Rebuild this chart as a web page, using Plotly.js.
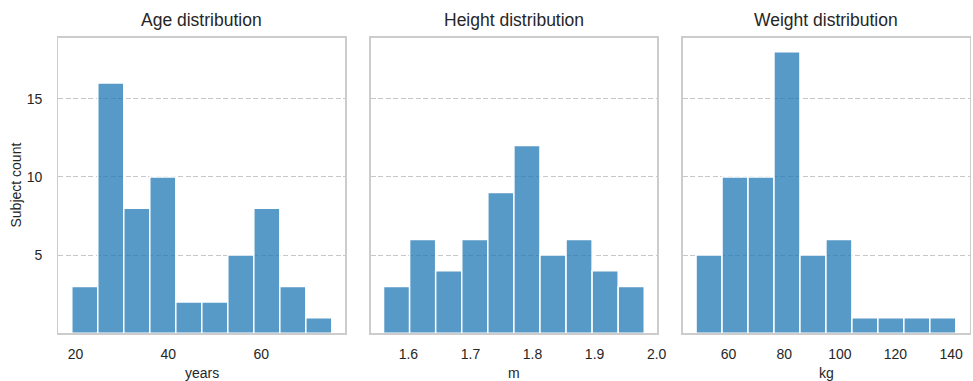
<!DOCTYPE html>
<html>
<head>
<meta charset="utf-8">
<script src="https://cdn.plot.ly/plotly-3.0.1.min.js"></script>
<style>html,body{margin:0;padding:0;background:#fff;}#chart{width:973px;height:381px;}</style>
</head>
<body>
<div id="chart"></div>
<script>
// ---- data ----
const panelTitles = ["Age distribution", "Height distribution", "Weight distribution"];
const unitLabels = ["years", "m", "kg"];
const yLabel = "Subject count";

const ageEdges = [19.2, 24.8, 30.4, 36.0, 41.6, 47.2, 52.8, 58.4, 64.0, 69.6, 75.2];
const ageCounts = [3, 16, 8, 10, 2, 2, 5, 8, 3, 1];

const heightEdges = [1.560, 1.602, 1.644, 1.686, 1.728, 1.770, 1.812, 1.854, 1.896, 1.938, 1.980];
const heightCounts = [3, 6, 4, 6, 9, 12, 5, 6, 4, 3];

const weightEdges = [48.3, 57.64, 66.98, 76.32, 85.66, 95.0, 104.34, 113.68, 123.02, 132.36, 141.7];
const weightCounts = [5, 10, 10, 18, 5, 6, 1, 1, 1, 1];

const ageTicks = [20, 40, 60];
const heightTicks = [1.6, 1.7, 1.8, 1.9, 2.0];
const heightTickText = ["1.6", "1.7", "1.8", "1.9", "2.0"];
const weightTicks = [60, 80, 100, 120, 140];
const countTicks = [5, 10, 15];

// ---- build ----
const FONT = "Liberation Sans, Arial, sans-serif";
const TXT = "#262626";
const barColor = "rgba(31,119,180,0.75)";

function histTrace(edges, counts, xa, ya) {
  const centers = [], widths = [];
  for (let i = 0; i < counts.length; i++) {
    centers.push((edges[i] + edges[i + 1]) / 2);
    widths.push(edges[i + 1] - edges[i]);
  }
  return {
    type: "bar", x: centers, y: counts, width: widths,
    xaxis: xa, yaxis: ya,
    marker: { color: barColor, line: { color: "#ffffff", width: 1.5 } },
    hoverinfo: "x+y", showlegend: false
  };
}

const data = [
  histTrace(ageEdges, ageCounts, "x", "y"),
  histTrace(heightEdges, heightCounts, "x2", "y2"),
  histTrace(weightEdges, weightCounts, "x3", "y3")
];

const W = 973, H = 381;
const px = v => v / W;
const py = v => (H - v) / H;
const yDom = [py(333.3), py(37.7)];
const xDoms = [[px(58.3), px(345.3)], [px(370.5), px(657.3)], [px(682.7), px(970)]];

function xAxis(dom, range, tickvals, ticktext, anchor) {
  const a = {
    domain: dom, range: range, anchor: anchor,
    tickmode: "array", tickvals: tickvals,
    showgrid: false, zeroline: false,
    showline: true, mirror: true, linecolor: "#cccccc", linewidth: 1.25,
    ticks: "", ticklabelstandoff: 8,
    tickfont: { family: FONT, size: 14, color: TXT }
  };
  if (ticktext) a.ticktext = ticktext;
  return a;
}
function yAxis(dom, anchor, showLabels, matches) {
  const a = {
    domain: dom, range: [0, 18.9], anchor: anchor,
    tickmode: "array", tickvals: countTicks,
    showgrid: true, gridcolor: "#c8c8c8", gridwidth: 1, griddash: "5px,2.5px",
    zeroline: false,
    showline: true, mirror: true, linecolor: "#cccccc", linewidth: 1.25,
    ticks: "", ticklabelstandoff: 12, showticklabels: showLabels,
    tickfont: { family: FONT, size: 14, color: TXT }
  };
  if (matches) a.matches = matches;
  return a;
}

const annotations = [];
for (let i = 0; i < 3; i++) {
  const cx = (xDoms[i][0] + xDoms[i][1]) / 2;
  annotations.push({
    text: panelTitles[i], x: cx, y: py(19.5), xref: "paper", yref: "paper",
    xanchor: "center", yanchor: "middle", showarrow: false,
    font: { family: FONT, size: 17.5, color: TXT }
  });
  annotations.push({
    text: unitLabels[i], x: cx, y: py(373), xref: "paper", yref: "paper",
    xanchor: "center", yanchor: "middle", showarrow: false,
    font: { family: FONT, size: 14, color: TXT }
  });
}
annotations.push({
  text: yLabel, x: px(15), y: (yDom[0] + yDom[1]) / 2, xref: "paper", yref: "paper",
  xanchor: "center", yanchor: "middle", textangle: -90, showarrow: false,
  font: { family: FONT, size: 14, color: TXT }
});

const layout = {
  width: W, height: H,
  margin: { l: 0, r: 0, t: 0, b: 0 },
  paper_bgcolor: "#ffffff", plot_bgcolor: "#ffffff",
  bargap: 0,
  xaxis: xAxis(xDoms[0], [16.3, 78.1], ageTicks, null, "y"),
  xaxis2: xAxis(xDoms[1], [1.539, 2.001], heightTicks, heightTickText, "y2"),
  xaxis3: xAxis(xDoms[2], [43.5, 146.8], weightTicks, null, "y3"),
  yaxis: yAxis(yDom, "x", true, null),
  yaxis2: yAxis(yDom, "x2", false, "y"),
  yaxis3: yAxis(yDom, "x3", false, "y"),
  annotations: annotations,
  font: { family: FONT, color: TXT }
};

Plotly.newPlot("chart", data, layout, { staticPlot: true, displayModeBar: false });
</script>
</body>
</html>
